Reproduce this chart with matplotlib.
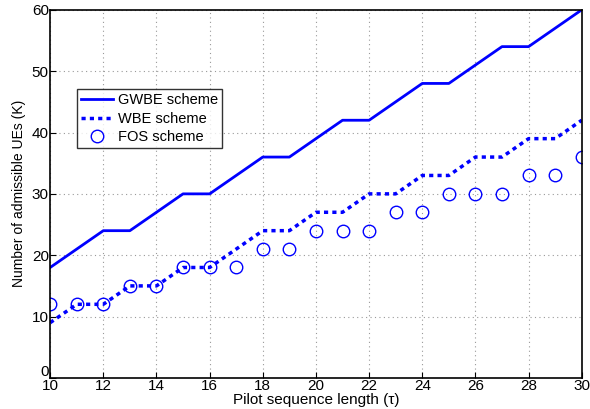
import matplotlib
matplotlib.use("Agg")
import matplotlib.pyplot as plt
from matplotlib.transforms import ScaledTranslation

tau = list(range(10, 31))
gwbe = [18, 21, 24, 24, 27, 30, 30, 33, 36, 36, 39, 42, 42, 45, 48, 48, 51, 54, 54, 57, 60]
wbe = [9, 12, 12, 15, 15, 18, 18, 21, 24, 24, 27, 27, 30, 30, 33, 33, 36, 36, 39, 39, 42]
fos = [12, 12, 12, 15, 15, 18, 18, 18, 21, 21, 24, 24, 24, 27, 27, 30, 30, 30, 33, 33, 36]

plt.rcParams['font.family'] = ['Liberation Sans', 'DejaVu Sans']
fig = plt.figure(figsize=(5.9, 4.09), dpi=100)
ax = fig.add_axes([0.085, 0.076, 0.901, 0.9])
ax.plot(tau, gwbe, color='#0000ff', lw=2, label='GWBE scheme')
ax.plot(tau, wbe, color='#0000ff', lw=2.5, ls=(0, (1.2, 1.2)), label='WBE scheme')
ax.plot(tau, fos, ls='none', marker='o', ms=9, mfc='none', mec='#0000ff', mew=1, label='FOS scheme')
ax.set_xlim(10, 30)
ax.set_ylim(0, 60)
ax.set_xticks(range(10, 31, 2))
ax.set_yticks(range(0, 61, 10))
ax.grid(True, ls=(0, (1, 3)), color='#999999', lw=0.8)
ax.tick_params(direction='in', labelsize=11, length=4, pad=1)
for s in ax.spines.values():
    s.set_linewidth(1.2)
ax.set_xlabel('Pilot sequence length (\u03c4)', fontsize=11, labelpad=0)
ax.set_ylabel('Number of admissible UEs (K)', fontsize=10, labelpad=4)
fig.canvas.draw()
ylabels = ax.get_yticklabels()
ylabels[0].set_transform(ylabels[0].get_transform() + ScaledTranslation(0, 7/100, fig.dpi_scale_trans))
leg = ax.legend(loc='upper left', bbox_to_anchor=(0.05, 0.785), fontsize=10.5, frameon=True,
                fancybox=False, edgecolor='black', handlelength=2.2, handletextpad=0.3,
                borderpad=0.3, labelspacing=0.3, borderaxespad=0)
leg.get_frame().set_linewidth(1)
fig.savefig('out.png', dpi=100)
